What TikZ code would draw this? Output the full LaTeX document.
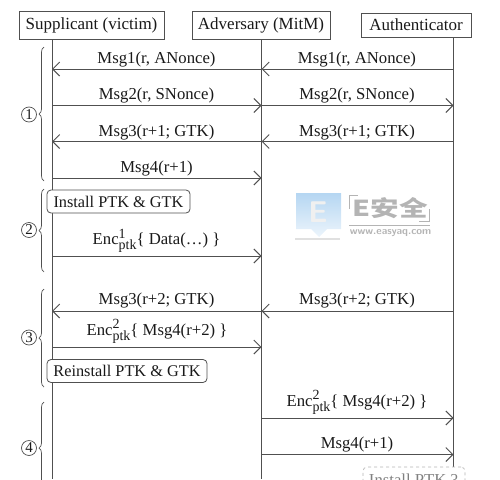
\documentclass[tikz,border=0pt]{standalone}
\usepackage{fontspec}
\setmainfont{Liberation Serif}
\newfontfamily\cjkfont{Noto Sans CJK SC}
\usetikzlibrary{arrows.meta,decorations.pathreplacing}
\definecolor{lineGray}{HTML}{505050}
\definecolor{markBlue}{HTML}{B5D6F2}
\definecolor{markGray}{HTML}{B4B4B4}
\newcommand{\encptk}[1]{Enc\rlap{\raisebox{6.5pt}{\fontsize{14}{14}\selectfont #1}}\raisebox{-5pt}{\fontsize{14}{14}\selectfont ptk}}
\tikzset{
  party/.style={draw=lineGray, line width=1pt, fill=white, inner sep=0pt, font=\fontsize{17}{18}\selectfont, text=black!90},
  state/.style={draw=lineGray, line width=0.8pt, fill=white, rounded corners=4pt, inner sep=0pt, font=\fontsize{16.3}{18}\selectfont, text=black!90},
  msg/.style={anchor=base, inner sep=0pt, font=\fontsize{16.7}{18}\selectfont, text=black!90},
  lifeline/.style={lineGray, line width=1pt},
  arrowmsg/.style={lineGray, line width=1pt, -{Straight Barb[length=7pt,width=14pt]}},
  phase/.style={lineGray, line width=0.7pt, decorate, decoration={brace, amplitude=5pt}},
  phaselabel/.style={draw=lineGray, line width=0.7pt, circle, minimum size=15pt, inner sep=0pt, font=\fontsize{15}{15}\selectfont, text=black!90}
}
\begin{document}
\begin{tikzpicture}[x=1pt,y=-1pt]
    \useasboundingbox (0,0) rectangle (500,479);

    % Kopfzeile
    \node[party, minimum width=145pt, minimum height=28pt] (supplicant) at (91.5,25) {Supplicant (victim)};
    \node[party, minimum width=138pt, minimum height=28pt] (adversary) at (261,25) {Adversary (MitM)};
    \node[party, minimum width=110pt, minimum height=24pt] (authenticator) at (416,25) {Authenticator};

    % Lebenslinien
    \coordinate (supTop) at (52,39);
    \coordinate (advTop) at (261.5,39);
    \coordinate (autTop) at (453.5,37);
    \coordinate (supEnd) at (52,479);
    \coordinate (advEnd) at (261.5,479);
    \coordinate (autEnd) at (453.5,479);
    \draw[lifeline] (supTop) -- (supEnd);
    \draw[lifeline] (advTop) -- (advEnd);
    \draw[lifeline] (autTop) -- (autEnd);

    % Wasserzeichen
    \shade[top color=markBlue, bottom color=markBlue!25] (296,193) -- (341,193) -- (341,229) -- (327,229) -- (319,237) -- (311,229) -- (296,229) -- cycle;
    \fill[black!12] (295,238) rectangle (340,239.5);
    \node[inner sep=0pt, text=black!6, font=\sffamily\bfseries\fontsize{30}{30}\selectfont] (markE) at (318,212) {E};
    \node[inner sep=0pt, text=markGray, font=\cjkfont\bfseries\fontsize{22}{22}\selectfont] (markName) at (390.5,208.5) {\scalebox{1.3}[1]{E安全}};
    \node[inner sep=0pt, text=markGray, font=\sffamily\bfseries\fontsize{10.5}{11}\selectfont] (markUrl) at (390.5,233) {www.easyaq.com};
    \draw[markGray, line width=0.8pt] (349,209) -- (349,195) -- (358,195);
    \draw[markGray, line width=0.8pt] (429,209) -- (429,221) -- (419,221);
    \draw[markGray, line width=0.8pt] (349,225) -- (430,225);

    % Pfeile
    \foreach \row/\ypos in {a/69,b/105.5,c/141.5,d/178,e/256,f/311,g/347,h/418,i/454.5}{
      \coordinate (sup\row) at (52,\ypos);
      \coordinate (adv\row) at (261.5,\ypos);
      \coordinate (aut\row) at (453.5,\ypos);
    }
    \draw[arrowmsg] (adva) -- (supa);
    \draw[arrowmsg] (auta) -- (adva);
    \draw[arrowmsg] (supb) -- (advb);
    \draw[arrowmsg] (advb) -- (autb);
    \draw[arrowmsg] (advc) -- (supc);
    \draw[arrowmsg] (autc) -- (advc);
    \draw[arrowmsg] (supd) -- (advd);
    \draw[arrowmsg] (supe) -- (adve);
    \draw[arrowmsg] (advf) -- (supf);
    \draw[arrowmsg] (autf) -- (advf);
    \draw[arrowmsg] (supg) -- (advg);
    \draw[arrowmsg] (advh) -- (auth);
    \draw[arrowmsg] (advi) -- (auti);

    % Beschriftungen
    \node[msg] (msgOneL) at (156.5,63) {Msg1(r, ANonce)};
    \node[msg] (msgOneR) at (357,63) {Msg1(r, ANonce)};
    \node[msg] (msgTwoL) at (156.5,99.5) {Msg2(r, SNonce)};
    \node[msg] (msgTwoR) at (357,99.5) {Msg2(r, SNonce)};
    \node[msg] (msgThreeL) at (156.5,136) {Msg3(r+1; GTK)};
    \node[msg] (msgThreeR) at (357,136) {Msg3(r+1; GTK)};
    \node[msg] (msgFourL) at (156.5,172) {Msg4(r+1)};
    \node[msg] (encOne) at (156.5,244.5) {\encptk{1}\{ Data(\dots) \}};
    \node[msg] (msgThreeTwoL) at (156.5,304.5) {Msg3(r+2; GTK)};
    \node[msg] (msgThreeTwoR) at (357,304.5) {Msg3(r+2; GTK)};
    \node[msg] (encTwoL) at (157,335) {\encptk{2}\{ Msg4(r+2) \}};
    \node[msg] (encTwoR) at (357,406) {\encptk{2}\{ Msg4(r+2) \}};
    \node[msg] (msgFourR) at (357,448) {Msg4(r+1)};

    % Zustaende
    \node[state, minimum width=143pt, minimum height=23pt] (install) at (118.5,201.5) {Install PTK \& GTK};
    \node[state, minimum width=160pt, minimum height=23pt] (reinstall) at (127,371) {Reinstall PTK \& GTK};
    \node[state, draw=markGray, dashed, line width=0.7pt, minimum width=102pt, minimum height=24pt] (installBox) at (414,479) {};
    \node[msg, text=black!50] (installAsk) at (413.5,485) {Install PTK ?};

    % Klammern
    \coordinate (oneEnd) at (44,181);
    \coordinate (oneTop) at (44,47);
    \coordinate (twoEnd) at (44,272);
    \coordinate (twoTop) at (44,189);
    \coordinate (threeEnd) at (44,387);
    \coordinate (threeTop) at (44,289);
    \coordinate (fourEnd) at (44,494);
    \coordinate (fourTop) at (44,402);
    \draw[phase] (oneEnd) -- (oneTop);
    \draw[phase] (twoEnd) -- (twoTop);
    \draw[phase] (threeEnd) -- (threeTop);
    \draw[phase] (fourEnd) -- (fourTop);
    \node[phaselabel] (stepOne) at (29,114.5) {1};
    \node[phaselabel] (stepTwo) at (29,230) {2};
    \node[phaselabel] (stepThree) at (29,337.5) {3};
    \node[phaselabel] (stepFour) at (29,448) {4};
  \end{tikzpicture}
\end{document}
